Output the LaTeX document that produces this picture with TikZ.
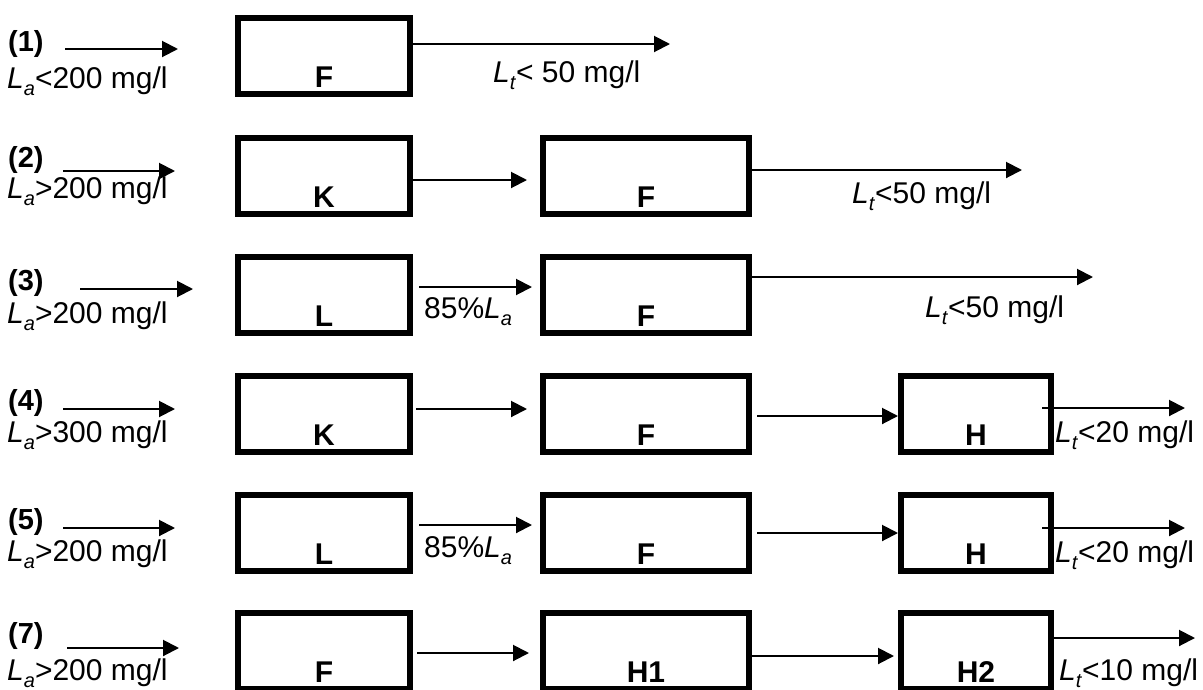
\documentclass[tikz,border=0pt]{standalone}
\usepackage{fontspec}
\setmainfont{Liberation Sans}
\usetikzlibrary{arrows.meta}
\newcommand{\Lsub}[2]{\textit{#1}\raisebox{-0.24em}{\fontsize{20}{20}\selectfont\textit{#2}}}
\begin{document}
\begin{tikzpicture}[x=1pt,y=-1pt]
\tikzset{
  box/.style={draw, line width=6pt, inner sep=0pt, minimum height=76pt},
  wa/.style={minimum width=172pt},
  wb/.style={minimum width=206pt},
  wc/.style={minimum width=150pt},
  lbl/.style={anchor=base, inner sep=0pt, font=\fontsize{30}{34}\selectfont\bfseries},
  txt/.style={anchor=base west, inner sep=0pt, font=\fontsize{30}{35}\selectfont},
  num/.style={anchor=base west, inner sep=0pt, font=\fontsize{29}{33}\selectfont\bfseries},
  arr/.style={line width=2pt, -{Triangle[length=16pt,width=16pt]}}
}
\useasboundingbox (0,0) rectangle (1203,689);
\fill[white] (0,0) rectangle (1203,689);

% ---------- Row 1 ----------
\node[box, wa] (F1) at (324,56) {};
\node[lbl] (tF1) at ([yshift=10pt]F1.south) {F};
\node[num] (n1) at (8,51) {(1)};
\node[txt] (la1) at (7,88) {\Lsub{L}{a}<200 mg/l};
\coordinate (i1s) at (65,49); \coordinate (i1e) at (178,49);
\draw[arr] (i1s) -- (i1e);
\coordinate (o1e) at (670,44);
\draw[arr] (F1.east |- o1e) -- (o1e);
\node[txt] (lt1) at (493,82) {\Lsub{L}{t}< 50 mg/l};

% ---------- Row 2 ----------
\node[box, wa] (K2) at (324,176) {};
\node[lbl] (tK2) at ([yshift=10pt]K2.south) {K};
\node[box, wb] (F2) at (646,176) {};
\node[lbl] (tF2) at ([yshift=10pt]F2.south) {F};
\node[num] (n2) at (8,167) {(2)};
\node[txt] (la2) at (7,198) {\Lsub{L}{a}>200 mg/l};
\coordinate (i2s) at (63,171); \coordinate (i2e) at (175,171);
\draw[arr] (i2s) -- (i2e);
\draw[arr] ([yshift=-45pt]K2.north east) -- ([xshift=-13pt,yshift=-45pt]F2.north west);
\coordinate (o2e) at (1022,170);
\draw[arr] (F2.east |- o2e) -- (o2e);
\node[txt] (lt2) at (852,203) {\Lsub{L}{t}<50 mg/l};

% ---------- Row 3 ----------
\node[box, wa] (L3) at (324,295) {};
\node[lbl] (tL3) at ([yshift=10pt]L3.south) {L};
\node[box, wb] (F3) at (646,295) {};
\node[lbl] (tF3) at ([yshift=10pt]F3.south) {F};
\node[num] (n3) at (8,290) {(3)};
\node[txt] (la3) at (7,323) {\Lsub{L}{a}>200 mg/l};
\coordinate (i3s) at (80,289); \coordinate (i3e) at (193,289);
\draw[arr] (i3s) -- (i3e);
\draw[arr] ([xshift=6pt,yshift=-33pt]L3.north east) -- ([xshift=-8pt,yshift=-33pt]F3.north west);
\node[txt] (p3) at (424,318) {85\%\Lsub{L}{a}};
\coordinate (o3e) at (1093,277);
\draw[arr] (F3.east |- o3e) -- (o3e);
\node[txt] (lt3) at (925,317) {\Lsub{L}{t}<50 mg/l};

% ---------- Row 4 ----------
\node[box, wa] (K4) at (324,414) {};
\node[lbl] (tK4) at ([yshift=10pt]K4.south) {K};
\node[box, wb] (F4) at (646,414) {};
\node[lbl] (tF4) at ([yshift=10pt]F4.south) {F};
\node[box, wc] (H4) at (976,414) {};
\node[lbl] (tH4) at ([yshift=10pt]H4.south) {H};
\node[num] (n4) at (8,410) {(4)};
\node[txt] (la4) at (7,442) {\Lsub{L}{a}>300 mg/l};
\coordinate (i4s) at (63,409); \coordinate (i4e) at (175,409);
\draw[arr] (i4s) -- (i4e);
\draw[arr] ([xshift=3pt,yshift=-36pt]K4.north east) -- ([xshift=-13pt,yshift=-36pt]F4.north west);
\draw[arr] ([xshift=5pt,yshift=-43pt]F4.north east) -- ([yshift=-43pt]H4.north west);
\coordinate (o4e) at (1185,408);
\draw[arr] ([xshift=-12pt]H4.east |- o4e) -- (o4e);
\node[txt] (lt4) at (1055,442) {\Lsub{L}{t}<20 mg/l};

% ---------- Row 5 ----------
\node[box, wa] (L5) at (324,533) {};
\node[lbl] (tL5) at ([yshift=10pt]L5.south) {L};
\node[box, wb] (F5) at (646,533) {};
\node[lbl] (tF5) at ([yshift=10pt]F5.south) {F};
\node[box, wc] (H5) at (976,533) {};
\node[lbl] (tH5) at ([yshift=10pt]H5.south) {H};
\node[num] (n5) at (8,529) {(5)};
\node[txt] (la5) at (7,561) {\Lsub{L}{a}>200 mg/l};
\coordinate (i5s) at (63,528); \coordinate (i5e) at (175,528);
\draw[arr] (i5s) -- (i5e);
\draw[arr] ([xshift=6pt,yshift=-33pt]L5.north east) -- ([xshift=-8pt,yshift=-33pt]F5.north west);
\node[txt] (p5) at (424,557) {85\%\Lsub{L}{a}};
\draw[arr] ([xshift=5pt,yshift=-41pt]F5.north east) -- ([yshift=-41pt]H5.north west);
\coordinate (o5e) at (1185,528);
\draw[arr] ([xshift=-12pt]H5.east |- o5e) -- (o5e);
\node[txt] (lt5) at (1055,562) {\Lsub{L}{t}<20 mg/l};

% ---------- Row 7 ----------
\node[box, wa] (F7) at (324,651) {};
\node[lbl] (tF7) at ([yshift=10pt]F7.south) {F};
\node[box, wb] (H17) at (646,651) {};
\node[lbl] (tH17) at ([yshift=10pt]H17.south) {H1};
\node[box, wc] (H27) at (976,651) {};
\node[lbl] (tH27) at ([yshift=10pt]H27.south) {H2};
\node[num] (n7) at (8,643) {(7)};
\node[txt] (la7) at (7,680) {\Lsub{L}{a}>200 mg/l};
\coordinate (i7s) at (67,648); \coordinate (i7e) at (179,648);
\draw[arr] (i7s) -- (i7e);
\draw[arr] ([xshift=4pt,yshift=-43pt]F7.north east) -- ([xshift=-11pt,yshift=-43pt]H17.north west);
\draw[arr] ([yshift=-46pt]H17.north east) -- ([xshift=-4pt,yshift=-46pt]H27.north west);
\coordinate (o7e) at (1195,638);
\draw[arr] (H27.east |- o7e) -- (o7e);
\node[txt] (lt7) at (1059,680) {\Lsub{L}{t}<10 mg/l};
\end{tikzpicture}
\end{document}
